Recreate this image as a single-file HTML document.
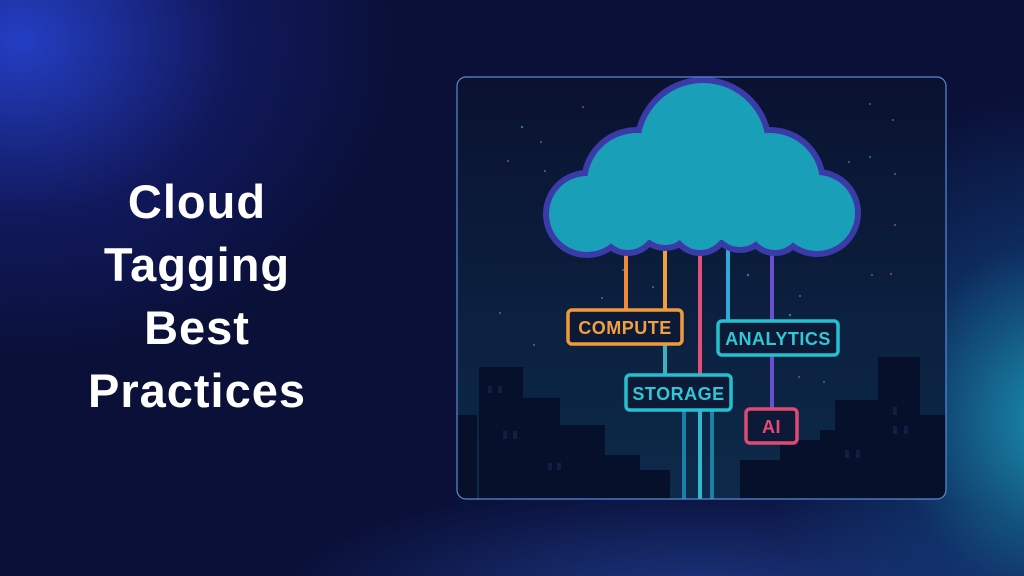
<!DOCTYPE html>
<html><head><meta charset="utf-8"><style>
html,body{margin:0;padding:0}
body{width:1024px;height:576px;overflow:hidden;position:relative;
background:
radial-gradient(ellipse 380px 320px at 20px 40px, rgba(40,70,220,0.85), rgba(30,40,160,0.35) 55%, rgba(0,0,0,0) 100%),
radial-gradient(ellipse 300px 330px at 1060px 420px, rgba(30,170,200,0.85), rgba(20,90,160,0.35) 55%, rgba(0,0,0,0) 100%),
radial-gradient(ellipse 420px 120px at 700px 600px, rgba(40,80,180,0.6), rgba(0,0,0,0) 100%),
#0a1038;font-family:"Liberation Sans",sans-serif}
.t{position:absolute;left:0;width:394px;text-align:center;color:#fff;font-weight:bold;font-size:47px;letter-spacing:1px;line-height:63px;top:170px}
</style></head><body>
<div class="t">Cloud<br>Tagging<br>Best<br>Practices</div>
<svg style="position:absolute;left:0;top:0" width="1024" height="576">
<defs>
<linearGradient id="bg" x1="0" y1="0" x2="0" y2="1"><stop offset="0" stop-color="#0a1230"/><stop offset="1" stop-color="#0d2a4a"/></linearGradient>
<clipPath id="cp"><rect x="457" y="77" width="489" height="422" rx="9"/></clipPath>
</defs>
<rect x="457" y="77" width="489" height="422" rx="9" fill="url(#bg)"/>
<g clip-path="url(#cp)">
<g fill="#06102a">
<rect x="457" y="415" width="20" height="90"/><rect x="479" y="367" width="44" height="140"/>
<rect x="520" y="398" width="40" height="110"/><rect x="560" y="425" width="45" height="80"/>
<rect x="600" y="455" width="40" height="50"/><rect x="630" y="470" width="40" height="40"/>
<rect x="740" y="460" width="40" height="45"/><rect x="780" y="440" width="50" height="65"/>
<rect x="820" y="430" width="40" height="75"/><rect x="835" y="400" width="46" height="110"/>
<rect x="878" y="357" width="42" height="150"/><rect x="915" y="415" width="35" height="90"/>
</g>
<g fill="#161d45"><rect x="488" y="386" width="4" height="7"/><rect x="498" y="386" width="4" height="7"/>
<rect x="503" y="431" width="4" height="8"/><rect x="513" y="431" width="4" height="8"/>
<rect x="548" y="463" width="4" height="7"/><rect x="557" y="463" width="4" height="7"/>
<rect x="893" y="407" width="4" height="8"/><rect x="893" y="426" width="4" height="8"/><rect x="904" y="426" width="4" height="8"/>
<rect x="845" y="450" width="4" height="8"/><rect x="856" y="450" width="4" height="8"/></g>
<g fill="#3aa0c8" opacity="0.7">
<circle cx="522" cy="127" r="1.2"/><circle cx="590" cy="175" r="1"/><circle cx="545" cy="171" r="1"/><circle cx="550" cy="236" r="1"/>
<circle cx="849" cy="162" r="1"/><circle cx="870" cy="104" r="1"/><circle cx="870" cy="157" r="1"/><circle cx="872" cy="275" r="1"/>
<circle cx="748" cy="275" r="1.2"/><circle cx="800" cy="296" r="1"/><circle cx="790" cy="315" r="1.2"/><circle cx="534" cy="345" r="1"/>
<circle cx="623" cy="270" r="1"/><circle cx="653" cy="287" r="1"/><circle cx="730" cy="390" r="1"/><circle cx="824" cy="382" r="1"/>
</g>
<g fill="#d05a9a" opacity="0.7">
<circle cx="583" cy="107" r="1"/><circle cx="541" cy="142" r="1"/><circle cx="508" cy="161" r="1"/><circle cx="893" cy="120" r="1"/>
<circle cx="895" cy="174" r="1"/><circle cx="895" cy="225" r="1"/><circle cx="500" cy="313" r="1"/><circle cx="891" cy="274" r="1"/>
<circle cx="801" cy="237" r="1"/><circle cx="799" cy="377" r="1"/><circle cx="602" cy="298" r="1"/></g>
<g stroke-width="4" fill="none">
<line x1="626" y1="250" x2="626" y2="310" stroke="#f08a3a"/>
<line x1="665" y1="245" x2="665" y2="310" stroke="#f0a040"/>
<line x1="665" y1="345" x2="665" y2="375" stroke="#40b0c0"/>
<line x1="700" y1="250" x2="700" y2="500" stroke="#e0507a"/>
<line x1="728" y1="245" x2="728" y2="321" stroke="#30a8d8"/>
<line x1="772" y1="245" x2="772" y2="409" stroke="#6a50d0"/>
<line x1="684" y1="410" x2="684" y2="500" stroke="#1a80a8"/>
<line x1="700" y1="410" x2="700" y2="500" stroke="#30b8d0"/>
<line x1="712" y1="410" x2="712" y2="500" stroke="#1a80a8"/>
</g>
<g fill="#3a3aa8" stroke="#3a3aa8" stroke-width="12">
<circle cx="587" cy="214" r="38"/><circle cx="637" cy="183" r="50"/><circle cx="703" cy="146" r="63"/>
<circle cx="770" cy="183" r="50"/><circle cx="817" cy="213" r="38"/><rect x="587" y="185" width="230" height="55"/>
<circle cx="628" cy="225" r="25"/><circle cx="665" cy="220" r="25"/><circle cx="700" cy="225" r="25"/><circle cx="740" cy="222" r="25"/><circle cx="775" cy="225" r="25"/>
</g>
<g fill="#199fb8">
<circle cx="587" cy="214" r="38"/><circle cx="637" cy="183" r="50"/><circle cx="703" cy="146" r="63"/>
<circle cx="770" cy="183" r="50"/><circle cx="817" cy="213" r="38"/><rect x="587" y="185" width="230" height="55"/>
<circle cx="628" cy="225" r="25"/><circle cx="665" cy="220" r="25"/><circle cx="700" cy="225" r="25"/><circle cx="740" cy="222" r="25"/><circle cx="775" cy="225" r="25"/>
</g>
<g stroke-width="3.5" fill="#0c1a38">
<rect x="568" y="310" width="114" height="34" rx="4" stroke="#f09a3a"/>
<rect x="718" y="321" width="120" height="34" rx="4" stroke="#25c0d0"/>
<rect x="626" y="375" width="105" height="35" rx="4" stroke="#25c0d0"/>
<rect x="746" y="409" width="51" height="34" rx="4" stroke="#e04a72"/>
</g>
<g font-family="Liberation Sans, sans-serif" font-size="18" font-weight="bold" letter-spacing="0.5" text-anchor="middle" stroke="none">
<text x="625" y="334" fill="#f0a040">COMPUTE</text>
<text x="778" y="345" fill="#30c8d4">ANALYTICS</text>
<text x="678.5" y="400" fill="#30c8d4">STORAGE</text>
<text x="771.5" y="433" fill="#e84a78">AI</text>
</g>
</g>
<rect x="457" y="77" width="489" height="422" rx="9" fill="none" stroke="#5a8ad8" stroke-width="1.2"/>
</svg>
</body></html>
